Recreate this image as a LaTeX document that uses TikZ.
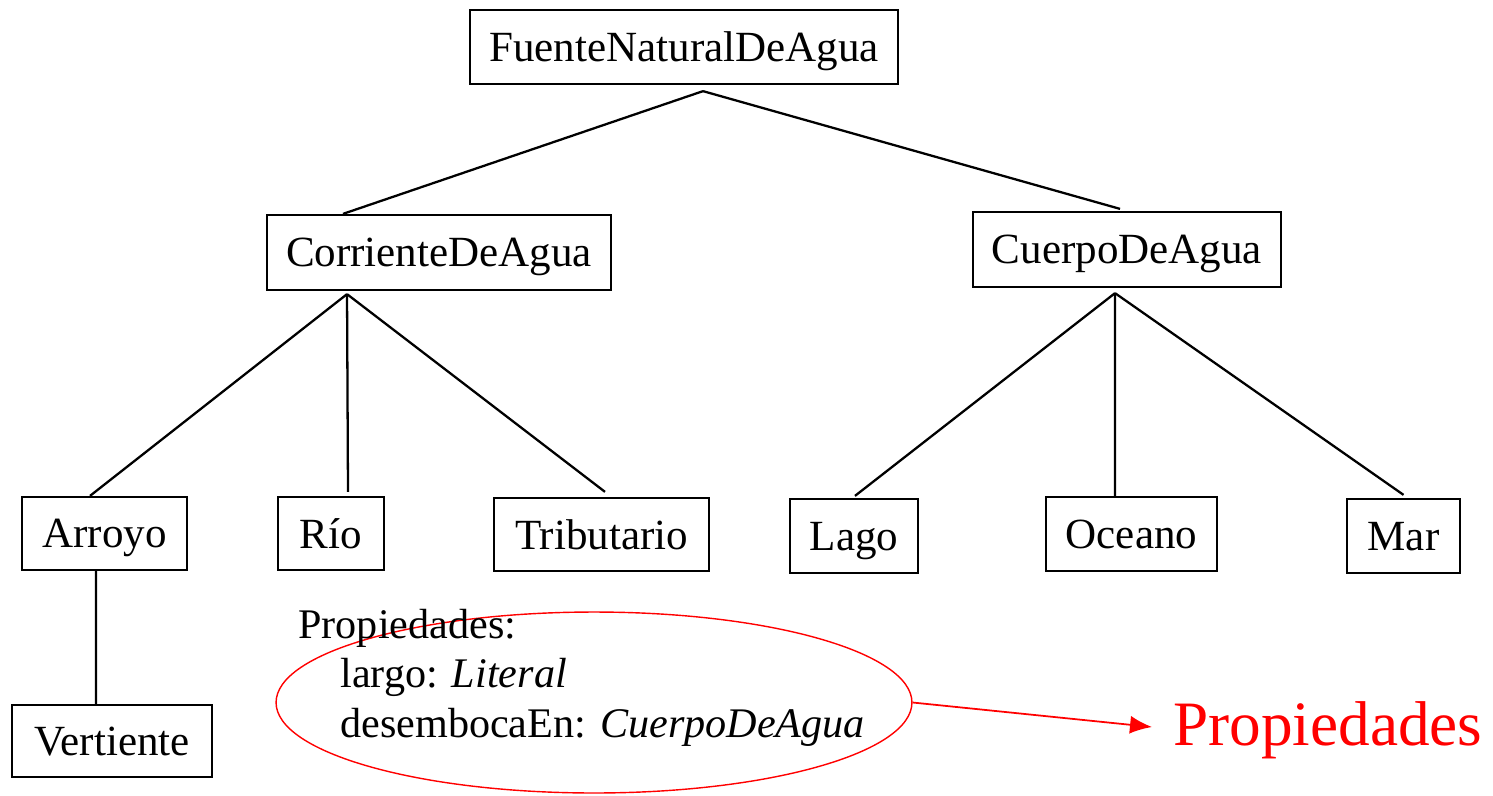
\documentclass[tikz,border=0pt]{standalone}
\usepackage{fontspec}
\setmainfont{Liberation Serif}
\usetikzlibrary{shapes.geometric,arrows.meta}
\tikzset{
  clase/.style={draw, line width=1.3pt, inner sep=0pt, text depth=0pt, font=\fontsize{24.5}{28}\selectfont},
  rama/.style={line width=1.3pt}
}
\begin{document}
\begin{tikzpicture}[x=0.02cm,y=-0.02cm]
\useasboundingbox (0,0) rectangle (1493,795);
\node[clase, minimum width=8.56cm, minimum height=1.48cm] (fuente) at (684,47) {FuenteNaturalDeAgua};
\node[clase, minimum width=6.88cm, minimum height=1.5cm] (corriente) at (439,252.5) {CorrienteDeAgua};
\node[clase, minimum width=6.16cm, minimum height=1.5cm] (cuerpo) at (1127,249.5) {CuerpoDeAgua};
\node[clase, minimum width=3.3cm, minimum height=1.46cm] (arroyo) at (104.5,533.5) {Arroyo};
\node[clase, minimum width=2.12cm, minimum height=1.46cm] (rio) at (331,533.5) {Río};
\node[clase, minimum width=4.3cm, minimum height=1.46cm] (tributario) at (601.5,534.5) {Tributario};
\node[clase, minimum width=2.56cm, minimum height=1.48cm] (lago) at (854,536) {Lago};
\node[clase, minimum width=3.42cm, minimum height=1.48cm] (oceano) at (1131.5,534) {Oceano};
\node[clase, minimum width=2.26cm, minimum height=1.48cm] (mar) at (1403.5,536) {Mar};
\node[clase, minimum width=4cm, minimum height=1.44cm] (vertiente) at (112,741) {Vertiente};
\draw[rama] ([xshift=0.38cm,yshift=-0.12cm]fuente.south) -- ([xshift=-1.92cm]corriente.north);
\draw[rama] ([xshift=0.38cm,yshift=-0.12cm]fuente.south) -- ([xshift=-0.14cm,yshift=0.04cm]cuerpo.north);
\draw[rama] ([xshift=-1.84cm,yshift=-0.06cm]corriente.south) -- ([xshift=-0.29cm]arroyo.north);
\draw[rama] ([xshift=-1.84cm,yshift=-0.06cm]corriente.south) -- ([xshift=0.34cm,yshift=0.08cm]rio.north);
\draw[rama] ([xshift=-1.84cm,yshift=-0.06cm]corriente.south) -- ([xshift=0.07cm,yshift=0.1cm]tributario.north);
\draw[rama] ([xshift=-0.24cm,yshift=-0.1cm]cuerpo.south) -- ([xshift=0.02cm,yshift=0.04cm]lago.north);
\draw[rama] ([xshift=-0.24cm,yshift=-0.1cm]cuerpo.south) -- ([xshift=-0.33cm]oceano.north);
\draw[rama] ([xshift=-0.24cm,yshift=-0.1cm]cuerpo.south) -- ([yshift=0.06cm]mar.north);
\draw[rama] ([xshift=-0.17cm]arroyo.south) -- ([xshift=-0.32cm]vertiente.north);
\node[draw=red, line width=0.8pt, ellipse, minimum width=12.72cm, minimum height=3.62cm] (elipse) at (594,702.5) {};
\node[anchor=base west, align=left, inner sep=0pt, font=\fontsize{24}{27.9}\selectfont] (props) at (298,737)
  {Propiedades:\\\hspace{0.84cm}largo: \textit{Literal}\\\hspace{0.84cm}desembocaEn: \textit{CuerpoDeAgua}};
\node[anchor=west, inner sep=0pt, text=red, font=\fontsize{36}{40}\selectfont] (propiedades) at (1173,730) {Propiedades};
\draw[red, line width=1pt, -{Latex[length=0.44cm,width=0.36cm]}] (elipse.east) -- ([xshift=-0.42cm,yshift=0.06cm]propiedades.west);
\end{tikzpicture}
\end{document}
